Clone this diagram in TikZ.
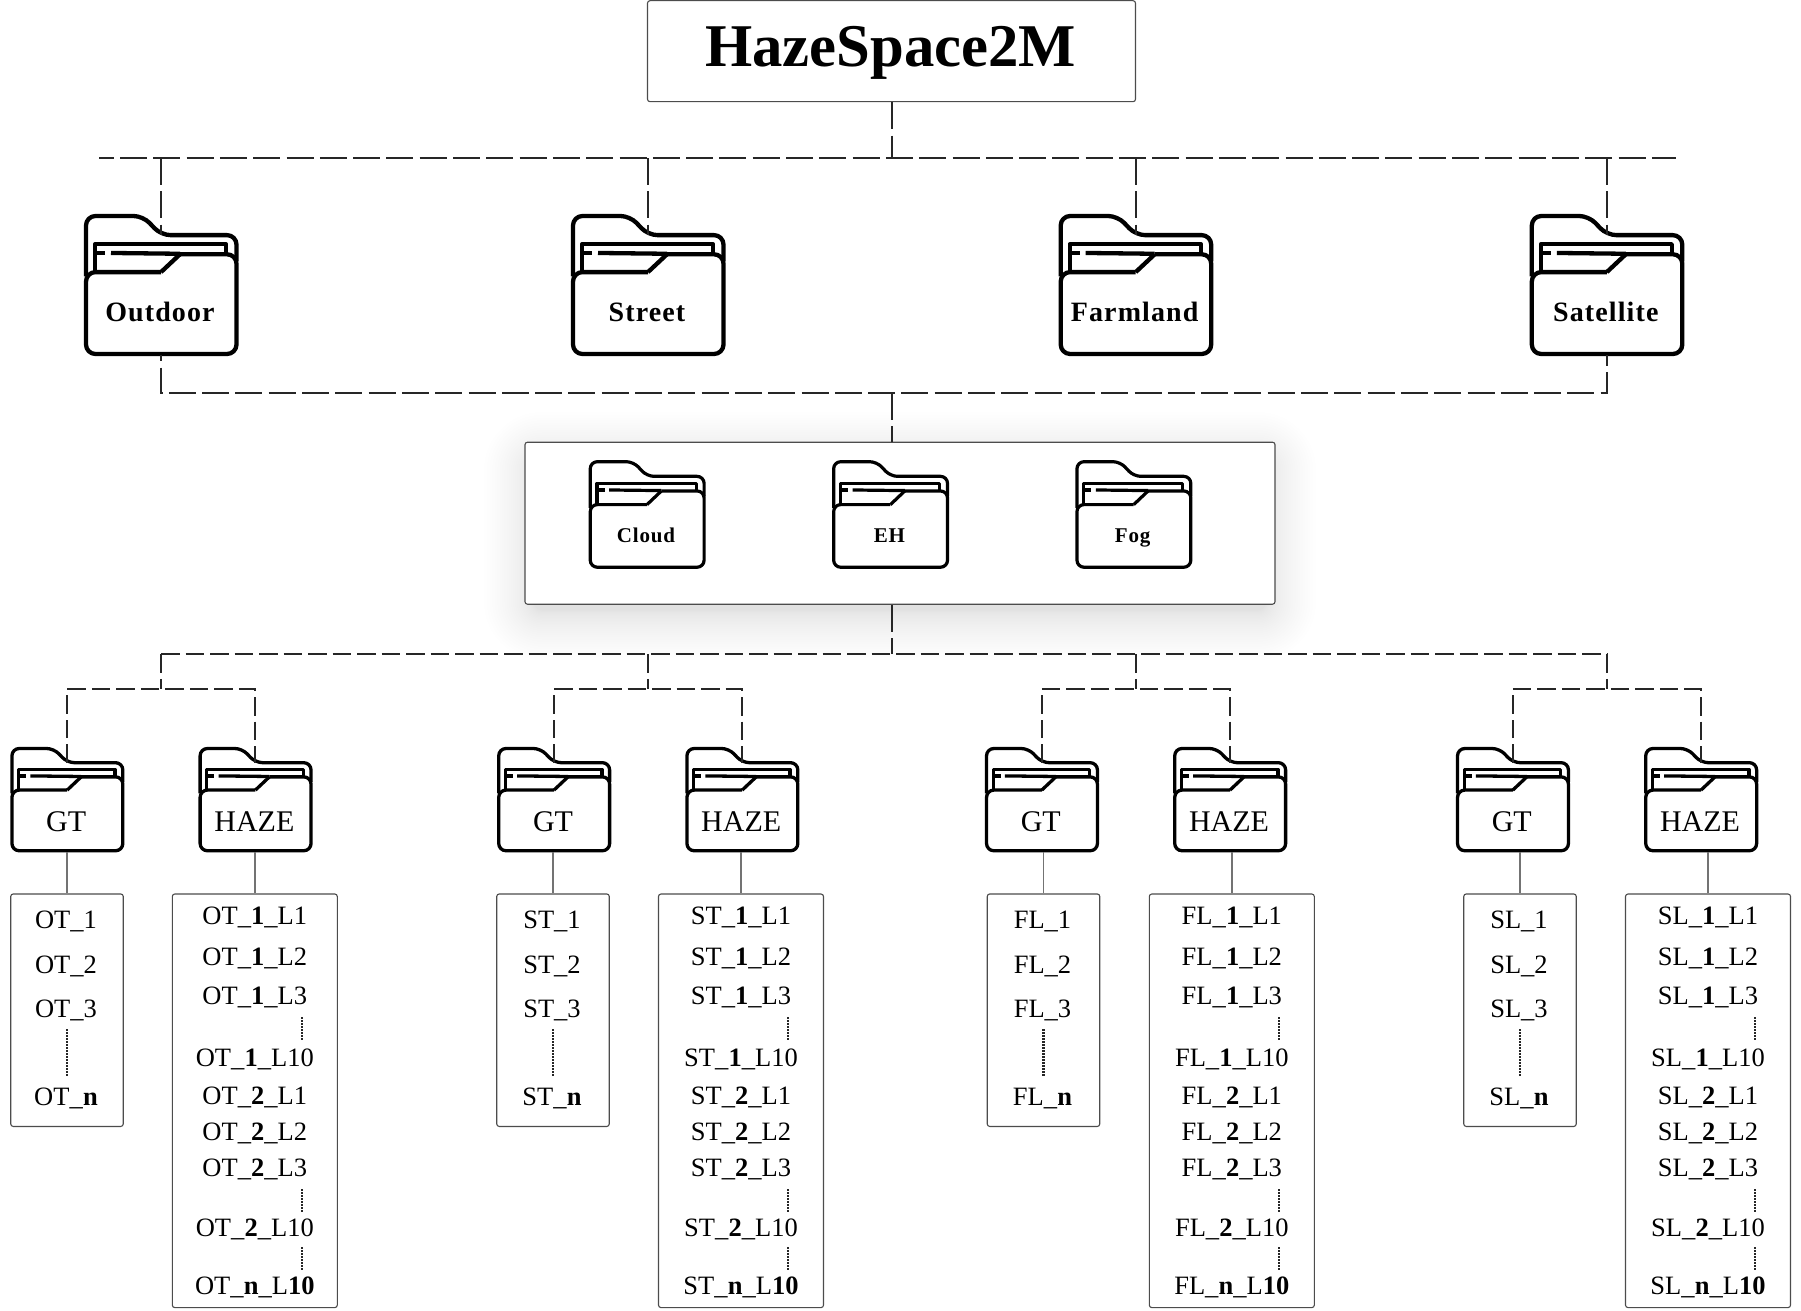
\documentclass[tikz,border=0pt]{standalone}
\usepackage{fontspec}
\setmainfont{Liberation Serif}
\usetikzlibrary{calc}
\definecolor{ink}{HTML}{000000}
\definecolor{wire}{HTML}{262626}
\tikzset{
  dashA/.style={draw=wire,line width=2pt,dash pattern=on 27pt off 6.3pt},
  dashC/.style={draw=wire,line width=2pt,dash pattern=on 18.5pt off 6pt},
  solidwire/.style={draw=black!55,line width=1.6pt},
  boxframe/.style={draw=black!70,line width=1.1pt,rounded corners=2.5pt,fill=white,inner sep=0pt},
  listtext/.style={anchor=base,inner sep=0pt,font=\fontsize{26.5}{30}\selectfont,text=ink},
  dotline/.style={draw=black!85,line width=2.6pt,dash pattern=on 1.5pt off 1.5pt},
}
% name, cx, top, w, h, line width, baseline of label (from top), label
\newcommand\folder[8]{%
  \pgfmathsetmacro\fxu{#4/152}\pgfmathsetmacro\fyu{#5/138}%
  \begin{scope}[shift={(#2-#4/2,#3)},x=\fxu pt,y=-\fyu pt,line width=#6pt,draw=black,line join=round]
    \draw[rounded corners=#6*2.2pt] (1,60) -- (1,0) -- (58,0) -- (76,19) -- (151.5,19) -- (151.5,45);
    \draw[rounded corners=#6*2.2pt] (76,55.7) -- (1,55.7) -- (1,137) -- (151.5,137) -- (151.5,38) -- (95,38);
    \draw (76,55.7) -- (95,38);
    \draw (10,55) -- (10,28) -- (141,28) -- (141,37);
    \draw (10,36.7) -- (20,36.7);
    \draw (26,36.7) -- (95,37.5);
  \end{scope}
  \node[inner sep=0pt,minimum width=#4pt,minimum height=#5pt] (#1) at (#2,#3+#5/2) {};
  \coordinate (#1-top) at (#2,#3+#5*19/138);
  \node[anchor=base,inner sep=0pt,text=ink] (#1-label) at (#2-1,#3+#7) {#8};
}
\newcommand\gtlist[3]{% name, prefix, cx
  \node[boxframe,minimum width=112.5pt,minimum height=232.5pt] (#1) at (#3,1010.2) {};
  \node[listtext] (#1-a) at (#3-1,928) {#2\_1};
  \node[listtext] (#1-b) at (#3-1,973) {#2\_2};
  \node[listtext] (#1-c) at (#3-1,1017) {#2\_3};
  \node[listtext] (#1-n) at (#3-1,1105.5) {#2\_\textbf{n}};
  \coordinate (#1-d1) at (#3,1029);
  \coordinate (#1-d2) at (#3,1076);
  \draw[dotline] (#1-d1) -- (#1-d2);
}
\newcommand\hazelist[3]{% name, prefix, cx
  \node[boxframe,minimum width=165pt,minimum height=413.6pt] (#1) at (#3,1100.8) {};
  \node[listtext] (#1-a) at (#3,924) {#2\_\textbf{1}\_L1};
  \node[listtext] (#1-b) at (#3,965) {#2\_\textbf{1}\_L2};
  \node[listtext] (#1-c) at (#3,1004) {#2\_\textbf{1}\_L3};
  \node[listtext] (#1-d) at (#3,1066) {#2\_\textbf{1}\_L10};
  \node[listtext] (#1-e) at (#3,1104) {#2\_\textbf{2}\_L1};
  \node[listtext] (#1-f) at (#3,1140) {#2\_\textbf{2}\_L2};
  \node[listtext] (#1-g) at (#3,1176) {#2\_\textbf{2}\_L3};
  \node[listtext] (#1-h) at (#3,1236) {#2\_\textbf{2}\_L10};
  \node[listtext] (#1-i) at (#3,1294.6) {#2\_\textbf{n}\_L\textbf{10}};
  \coordinate (#1-p1) at (#3+47,1017);
  \coordinate (#1-p2) at (#3+47,1041);
  \coordinate (#1-q1) at (#3+47,1189);
  \coordinate (#1-q2) at (#3+47,1212);
  \coordinate (#1-r1) at (#3+47,1247);
  \coordinate (#1-r2) at (#3+47,1270);
  \draw[dotline] (#1-p1) -- (#1-p2);
  \draw[dotline] (#1-q1) -- (#1-q2);
  \draw[dotline] (#1-r1) -- (#1-r2);
}
% id, prefix, drop x, gt folder x, haze folder x, gt box x, haze box x
\newcommand\branch[7]{%
  \folder{#1g}{#4}{748.5}{112}{103}{3.3}{83}{\fontsize{30}{32}\selectfont GT}
  \folder{#1h}{#5}{748.5}{112}{103}{3.3}{83}{\fontsize{30}{32}\selectfont HAZE}
  \gtlist{#1gl}{#2}{#6}
  \hazelist{#1hl}{#2}{#7}
  \coordinate (#1bus) at (#3,654.3);
  \coordinate (#1drop) at (#3,689.3);
  \draw[dashC] (#1bus) -- (#1drop);
  \draw[dashC] (#1g-top) -- (#1g-top |- #1drop) -- (#1h-top |- #1drop) -- (#1h-top);
  \draw[solidwire] (#1gl.north) -- (#1gl.north |- #1g.south);
  \draw[solidwire] (#1hl.north) -- (#1hl.north |- #1h.south);
}
\newcommand\biglabel{\bfseries\fontsize{28}{30}\selectfont\addfontfeature{LetterSpace=4}}
\newcommand\midlabel{\bfseries\fontsize{21}{24}\selectfont\addfontfeature{LetterSpace=4}}
\begin{document}
\begin{tikzpicture}[x=1pt,y=-1pt]
\useasboundingbox (0,0) rectangle (1801,1311);
% shadow of the middle panel
\foreach \i in {1,...,30}{
  \pgfmathsetmacro\e{50*(\i/30)^1.7}
  \pgfmathsetmacro\r{8+\e}
  \fill[black,opacity=.005,rounded corners=\r pt] (534-\e,462-\e) rectangle (1266+\e,610+\e);
}
% title
\node[boxframe,minimum width=488pt,minimum height=101pt] (title) at (891.5,51.2) {};
\node[anchor=base,inner sep=0pt,font=\bfseries\fontsize{60.7}{64}\selectfont,text=ink] (titletext) at (890.5,66.3) {HazeSpace2M};
% buses
\coordinate (b1l) at (99,158);
\coordinate (b1r) at (1675.7,158);
\coordinate (b2) at (891.5,393);
\coordinate (b3) at (891.5,654.3);
% big folders
\folder{outdoor}{161}{216}{152}{139}{4.3}{105}{\biglabel Outdoor}
\folder{street}{648}{216}{152}{139}{4.3}{105}{\biglabel Street}
\folder{farmland}{1135.7}{216}{152}{139}{4.3}{105}{\biglabel Farmland}
\folder{satellite}{1606.8}{216}{152}{139}{4.3}{105}{\biglabel Satellite}
\draw[dashA,dash phase=12.3pt] (b1l) -- (b1r);
\draw[dashA] (title.south) -- (title.south |- b1l);
\draw[dashA] (outdoor-top |- b1l) -- (outdoor-top);
\draw[dashA] (street-top |- b1l) -- (street-top);
\draw[dashA] (farmland-top |- b1l) -- (farmland-top);
\draw[dashA] (satellite-top |- b1l) -- (satellite-top);
\draw[dashA,dash phase=21pt] (outdoor.south) -- (outdoor.south |- b2) -- (satellite.south |- b2) -- (satellite.south);
% middle panel
\node[boxframe,minimum width=750pt,minimum height=162pt] (panel) at (900,523.2) {};
\draw[dashA] (b2) -- (b2 |- panel.north);
\folder{cloud}{647}{461.7}{115}{106.3}{3.2}{81}{\midlabel Cloud}
\folder{eh}{890.4}{461.7}{115}{106.3}{3.2}{81}{\midlabel EH}
\folder{fog}{1133.7}{461.7}{115}{106.3}{3.2}{81}{\midlabel Fog}
\draw[dashA] (b3 |- panel.south) -- (b3);
\coordinate (b3l) at (161,654.3);
\coordinate (b3r) at (1606.8,654.3);
\draw[dashC] (b3l) -- (b3r);
\branch{ot}{OT}{161}{67.2}{255.4}{67}{254.8}
\branch{st}{ST}{648}{554}{742.2}{553}{741}
\branch{fl}{FL}{1135.7}{1041.8}{1230}{1043.5}{1231.8}
\branch{sl}{SL}{1606.8}{1512.8}{1701}{1520}{1708}
\end{tikzpicture}
\end{document}
